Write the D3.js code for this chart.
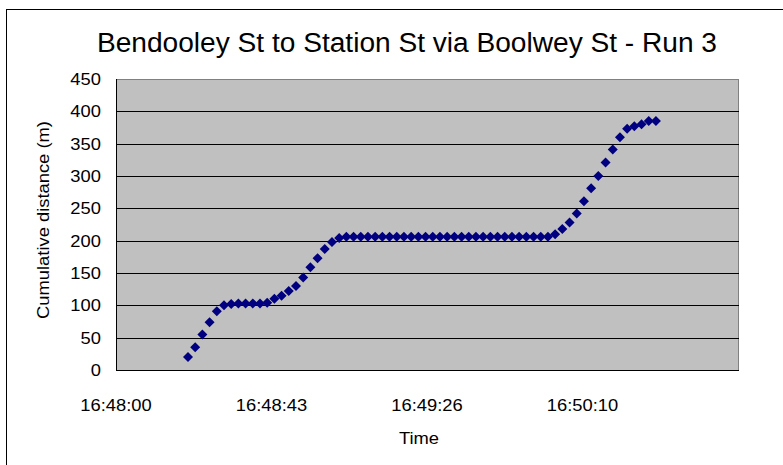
<!DOCTYPE html>
<html>
<head>
<meta charset="utf-8">
<script src="https://cdn.jsdelivr.net/npm/d3@7"></script>
<style>
  html, body { margin: 0; padding: 0; background: #ffffff; }
  svg { display: block; }
  text { font-family: "Liberation Sans", Arial, sans-serif; fill: #000; }
</style>
</head>
<body>
<svg id="chart" width="783" height="465"></svg>
<script>
// Run 3 log: clock time and cumulative distance travelled (m)
const times = [
  "16:48:20","16:48:22","16:48:24","16:48:26","16:48:28","16:48:30","16:48:32","16:48:34",
  "16:48:36","16:48:38","16:48:40","16:48:42","16:48:44","16:48:46","16:48:48","16:48:50",
  "16:48:52","16:48:54","16:48:56","16:48:58","16:49:00","16:49:02","16:49:04","16:49:06",
  "16:49:08","16:49:10","16:49:12","16:49:14","16:49:16","16:49:18","16:49:20","16:49:22",
  "16:49:24","16:49:26","16:49:28","16:49:30","16:49:32","16:49:34","16:49:36","16:49:38",
  "16:49:40","16:49:42","16:49:44","16:49:46","16:49:48","16:49:50","16:49:52","16:49:54",
  "16:49:56","16:49:58","16:50:00","16:50:02","16:50:04","16:50:06","16:50:08","16:50:10",
  "16:50:12","16:50:14","16:50:16","16:50:18","16:50:20","16:50:22","16:50:24","16:50:26",
  "16:50:28","16:50:30"
];
const distances = [
  20, 35, 55, 74, 91, 100, 102, 103,
  103, 103, 103, 104, 110, 115, 122, 130,
  143, 159, 173, 187, 198, 204, 206, 206,
  206, 206, 206, 206, 206, 206, 206, 206,
  206, 206, 206, 206, 206, 206, 206, 206,
  206, 206, 206, 206, 206, 206, 206, 206,
  206, 206, 206, 210, 218, 228, 242, 261,
  281, 300, 321, 341, 360, 373, 377, 380,
  385, 385
];

// Axis settings
const xDomain = ["16:48:00", "16:50:52.8"];
const xTickValues = ["16:48:00", "16:48:43.2", "16:49:26.4", "16:50:09.6"];
const xTickLabels = ["16:48:00", "16:48:43", "16:49:26", "16:50:10"];
const yTicks = [0, 50, 100, 150, 200, 250, 300, 350, 400, 450];

const titleText = "Bendooley St to Station St via Boolwey St - Run 3";
const xTitle = "Time";
const yTitle = "Cumulative distance (m)";

// Turn "HH:MM:SS(.s)" into a Date on a fixed day
function toDate(s) {
  const [h, m, sec] = s.split(":").map(Number);
  const whole = Math.floor(sec);
  return new Date(2000, 0, 1, h, m, whole, Math.round((sec - whole) * 1000));
}

const svg = d3.select("#chart");
const plot = { left: 116, right: 738, top: 79, bottom: 370 };
const stretch = 1.08;

const x = d3.scaleTime()
  .domain(xDomain.map(toDate))
  .range([plot.left, plot.right]);
const y = d3.scaleLinear()
  .domain([0, 450])
  .range([plot.bottom, plot.top]);

// Outer chart frame
svg.append("rect")
  .attr("x", 6.5).attr("y", 9.5)
  .attr("width", 820).attr("height", 520)
  .attr("fill", "#fff").attr("stroke", "#000").attr("stroke-width", 1);

// Plot area
svg.append("rect")
  .attr("x", plot.left + 0.5).attr("y", plot.top + 0.5)
  .attr("width", plot.right - plot.left).attr("height", plot.bottom - plot.top)
  .attr("fill", "#c0c0c0").attr("stroke", "#808080").attr("stroke-width", 1);

// Horizontal gridlines
svg.append("g")
  .selectAll("line")
  .data(yTicks.filter(v => v > 0 && v < 450))
  .join("line")
  .attr("x1", plot.left).attr("x2", plot.right + 1)
  .attr("y1", d => Math.round(y(d)) + 0.5)
  .attr("y2", d => Math.round(y(d)) + 0.5)
  .attr("stroke", "#000").attr("stroke-width", 1);

// Axis lines
svg.append("line")
  .attr("x1", plot.left + 0.5).attr("x2", plot.left + 0.5)
  .attr("y1", plot.top).attr("y2", plot.bottom + 1)
  .attr("stroke", "#000");
svg.append("line")
  .attr("x1", plot.left).attr("x2", plot.right + 1)
  .attr("y1", plot.bottom + 0.5).attr("y2", plot.bottom + 0.5)
  .attr("stroke", "#000");

// Y tick labels
svg.append("g")
  .selectAll("text")
  .data(yTicks)
  .join("text")
  .attr("transform", d => `translate(101,${y(d) + 6}) scale(${stretch},1)`)
  .attr("text-anchor", "end")
  .attr("font-size", "17px")
  .text(d => d);

// X tick labels
const xTicks = xTickValues.map((v, i) => ({ t: toDate(v), label: xTickLabels[i] }));
svg.append("g")
  .selectAll("text")
  .data(xTicks)
  .join("text")
  .attr("transform", d => `translate(${x(d.t)},411) scale(${stretch},1)`)
  .attr("text-anchor", "middle")
  .attr("font-size", "17px")
  .text(d => d.label);

// Axis titles
svg.append("text")
  .attr("transform", `translate(419,444) scale(${stretch},1)`)
  .attr("text-anchor", "middle")
  .attr("font-size", "17px")
  .text(xTitle);
svg.append("text")
  .attr("transform", `translate(49,220) rotate(-90) scale(${stretch},1)`)
  .attr("text-anchor", "middle")
  .attr("font-size", "17px")
  .text(yTitle);

// Chart title
svg.append("text")
  .attr("x", 407).attr("y", 52)
  .attr("text-anchor", "middle")
  .attr("font-size", "27px")
  .attr("textLength", 620)
  .attr("lengthAdjust", "spacingAndGlyphs")
  .text(titleText);

// Data markers: navy diamonds
const points = times.map((t, i) => ({ t: toDate(t), d: distances[i] }));
const diamond = d3.symbol().type(d3.symbolSquare).size(50);
svg.append("g")
  .selectAll("path")
  .data(points)
  .join("path")
  .attr("d", diamond)
  .attr("transform", p => `translate(${x(p.t)},${y(p.d)}) rotate(45)`)
  .attr("fill", "#000080");
</script>
</body>
</html>
